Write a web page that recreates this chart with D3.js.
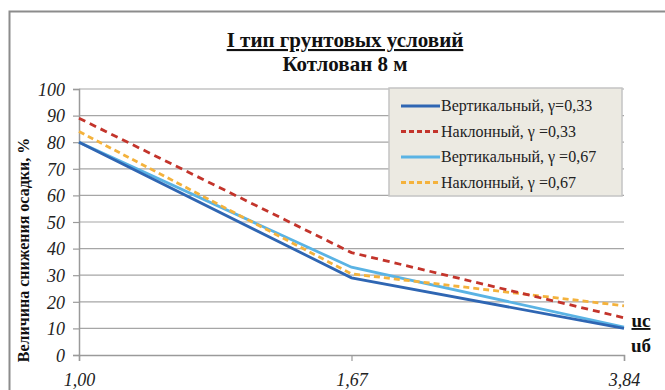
<!DOCTYPE html>
<html>
<head>
<meta charset="utf-8">
<script src="https://cdn.jsdelivr.net/npm/d3@7"></script>
</head>
<body style="margin:0">
<svg id="chart" width="665" height="390"></svg>
<script>
// Chart data
const xLabels = ["1,00", "1,67", "3,84"];
const yTicks = [0, 10, 20, 30, 40, 50, 60, 70, 80, 90, 100];
const seriesNames = [
    "Вертикальный, γ=0,33",
    "Наклонный, γ =0,33",
    "Вертикальный, γ =0,67",
    "Наклонный, γ =0,67"
];
const vert033 = [80, 29, 10];
const incl033 = [89, 38.5, 14];
const vert067 = [80, 33, 10.5];
const incl067 = [84, 30.5, 18.5];

const FONT = "'Liberation Serif', 'Times New Roman', serif";

const svg = d3.select("#chart"),
    margin = { top: 89, right: 41, bottom: 35, left: 79 },
    width = +svg.attr("width"),
    height = +svg.attr("height"),
    chartWidth = width - margin.left - margin.right,
    chartHeight = height - margin.top - margin.bottom;

// outer frame (only top/left edges visible)
svg.append("rect")
    .attr("x", 9.5).attr("y", 11.5)
    .attr("width", 700).attr("height", 400)
    .attr("fill", "none")
    .attr("stroke", "#8c8c8c")
    .attr("stroke-width", 2);

const chart = svg.append("g")
    .attr("transform", `translate(${margin.left},${margin.top})`);

const x = d3.scalePoint()
    .domain(xLabels)
    .range([0, chartWidth]);

const y = d3.scaleLinear()
    .domain([0, 100])
    .range([chartHeight, 0]);

// gridlines
chart.append("g")
    .selectAll("line")
    .data(yTicks.filter(d => d > 0))
    .join("line")
    .attr("x1", 0)
    .attr("x2", chartWidth)
    .attr("y1", d => y(d))
    .attr("y2", d => y(d))
    .attr("stroke", "#a6a6a6")
    .attr("stroke-width", 1.2);

// axes
const yAxis = chart.append("g")
    .call(d3.axisLeft(y).tickValues(yTicks).tickSize(6).tickPadding(8));
const xAxis = chart.append("g")
    .attr("transform", `translate(0,${chartHeight})`)
    .call(d3.axisBottom(x).tickSize(6).tickPadding(12));

[yAxis, xAxis].forEach(a => {
    a.attr("font-family", null).attr("font-size", null);
    a.select(".domain").attr("stroke", "#9a9a9a").attr("stroke-width", 1.5);
    a.selectAll(".tick line").attr("stroke", "#9a9a9a").attr("stroke-width", 1.2);
    a.selectAll("text")
        .attr("fill", "#222")
        .style("font-family", FONT, "important")
        .style("font-style", "italic", "important")
        .style("font-size", "18px", "important");
});
yAxis.selectAll("text").attr("dy", "0.35em");
xAxis.selectAll("text").attr("dy", "0.71em");

// series lines
const series = [
    { name: seriesNames[0], values: vert033, color: "#2f66b3", dash: null },
    { name: seriesNames[1], values: incl033, color: "#c3342b", dash: "7,5" },
    { name: seriesNames[2], values: vert067, color: "#5ab3e4", dash: null },
    { name: seriesNames[3], values: incl067, color: "#f4b23c", dash: "6,4" }
];

const line = d3.line()
    .x((d, i) => x(xLabels[i]))
    .y(d => y(d));

// draw order keeps the dark blue line on top of the light one
[2, 3, 0, 1].forEach(i => {
    const s = series[i];
    chart.append("path")
        .datum(s.values)
        .attr("fill", "none")
        .attr("stroke", s.color)
        .attr("stroke-width", 2.8)
        .attr("stroke-dasharray", s.dash)
        .attr("d", line);
});

// legend
const legend = svg.append("g")
    .attr("transform", "translate(389,88)");

legend.append("rect")
    .attr("width", 233)
    .attr("height", 108)
    .attr("fill", "#eceae2")
    .attr("stroke", "#c4c4c4")
    .attr("stroke-width", 1.5);

series.forEach((s, i) => {
    const g = legend.append("g")
        .attr("transform", `translate(0, ${18 + i * 25.5})`);

    g.append("line")
        .attr("x1", 12)
        .attr("x2", 51)
        .attr("stroke", s.color)
        .attr("stroke-width", 2.8)
        .attr("stroke-dasharray", s.dash ? "5,3" : null);

    g.append("text")
        .attr("x", 52)
        .attr("y", 5)
        .attr("fill", "#222")
        .style("font-family", FONT, "important")
        .style("font-size", "16px", "important")
        .text(s.name);
});

// text helper for titles and side labels
function label(text, attrs, size, bold, underline) {
    const t = svg.append("text")
        .attr("fill", "#111")
        .style("font-family", FONT, "important")
        .style("font-size", size + "px", "important")
        .style("font-weight", bold ? "bold" : "normal", "important")
        .text(text);
    if (underline) t.style("text-decoration", "underline", "important");
    Object.entries(attrs).forEach(([k, v]) => t.attr(k, v));
    return t;
}

label("I тип грунтовых условий", { x: 345, y: 47, "text-anchor": "middle" }, 21, true, true);
label("Котлован 8 м", { x: 345, y: 71, "text-anchor": "middle" }, 21, true, false);
label("Величина  снижения  осадки, %",
    { transform: "translate(29,250) rotate(-90)", "text-anchor": "middle" }, 16, true, false);
label("uс", { x: 641, y: 327, "text-anchor": "middle" }, 19, true, true);
label("uб", { x: 641, y: 352, "text-anchor": "middle" }, 19, true, false);
</script>
</body>
</html>
